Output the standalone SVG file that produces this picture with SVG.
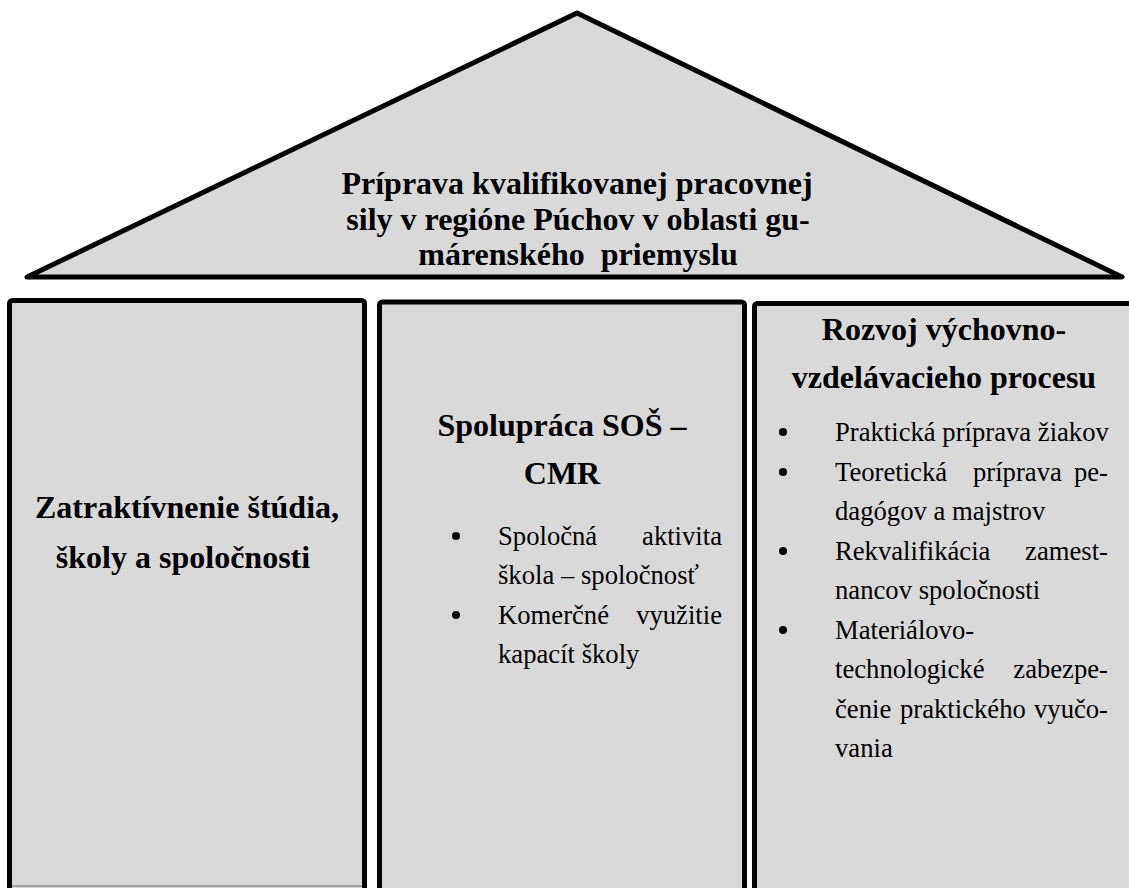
<svg xmlns="http://www.w3.org/2000/svg" width="1129" height="888" viewBox="0 0 1129 888">
  <style>
    .shape { fill: #d9d9d9; stroke: #000; stroke-width: 5; stroke-linejoin: round; }
    .bold { font-family: "Liberation Serif", "Times New Roman", serif; font-weight: bold; font-size: 32px; fill: #000; }
    .body { font-family: "Liberation Serif", "Times New Roman", serif; font-size: 26.67px; fill: #000; }
    .mid { text-anchor: middle; }
    .end { text-anchor: end; }
    .dot { fill: #000; }
  </style>
  <rect x="0" y="0" width="1129" height="888" fill="#fff"/>

  <g id="roof">
    <polygon class="shape" points="27,277 577,13 1122,277"/>
    <text class="bold mid" x="577" y="194">Príprava kvalifikovanej pracovnej</text>
    <text class="bold mid" x="578" y="230">sily v regióne Púchov v oblasti gu-</text>
    <text class="bold mid" x="578" y="265" xml:space="preserve">márenského  priemyslu</text>
  </g>

  <g id="pillar-1">
    <rect class="shape" x="9.5" y="300.5" width="355" height="620" rx="3"/>
    <line x1="12" y1="886" x2="362" y2="886" stroke="#8c8c8c" stroke-width="1.5"/>
    <text class="bold mid" x="187" y="518">Zatraktívnenie štúdia,</text>
    <text class="bold mid" x="183" y="568">školy a spoločnosti</text>
  </g>

  <g id="pillar-2">
    <rect class="shape" x="379.5" y="302" width="365" height="620" rx="3"/>
    <text class="bold mid" x="562" y="436">Spolupráca SOŠ –</text>
    <text class="bold mid" x="562" y="484">CMR</text>
    <circle class="dot" cx="456" cy="536" r="4"/>
    <text class="body" x="498" y="545">Spoločná</text>
    <text class="body end" x="722" y="545">aktivita</text>
    <text class="body" x="498" y="584">škola – spoločnosť</text>
    <circle class="dot" cx="456" cy="615" r="4"/>
    <text class="body" x="498" y="624">Komerčné</text>
    <text class="body end" x="722" y="624">využitie</text>
    <text class="body" x="498" y="663">kapacít školy</text>
  </g>

  <g id="pillar-3">
    <rect class="shape" x="754.5" y="303.5" width="380" height="620" rx="3"/>
    <text class="bold mid" x="944" y="340">Rozvoj výchovno-</text>
    <text class="bold mid" x="944" y="388">vzdelávacieho procesu</text>
    <circle class="dot" cx="783" cy="432" r="4"/>
    <text class="body" x="835" y="441">Praktická príprava žiakov</text>
    <circle class="dot" cx="783" cy="472" r="4"/>
    <text class="body" x="835" y="481">Teoretická</text>
    <text class="body" x="973" y="481">príprava</text>
    <text class="body end" x="1108" y="481">pe-</text>
    <text class="body" x="835" y="520">dagógov a majstrov</text>
    <circle class="dot" cx="783" cy="551" r="4"/>
    <text class="body" x="835" y="560">Rekvalifikácia</text>
    <text class="body end" x="1108" y="560">zamest-</text>
    <text class="body" x="835" y="599">nancov spoločnosti</text>
    <circle class="dot" cx="783" cy="630" r="4"/>
    <text class="body" x="835" y="639">Materiálovo-</text>
    <text class="body" x="835" y="678">technologické</text>
    <text class="body end" x="1108" y="678">zabezpe-</text>
    <text class="body" x="835" y="718">čenie</text>
    <text class="body" x="900" y="718">praktického</text>
    <text class="body end" x="1108" y="718">vyučo-</text>
    <text class="body" x="835" y="757">vania</text>
  </g>

  <g id="connectors"></g>
</svg>
